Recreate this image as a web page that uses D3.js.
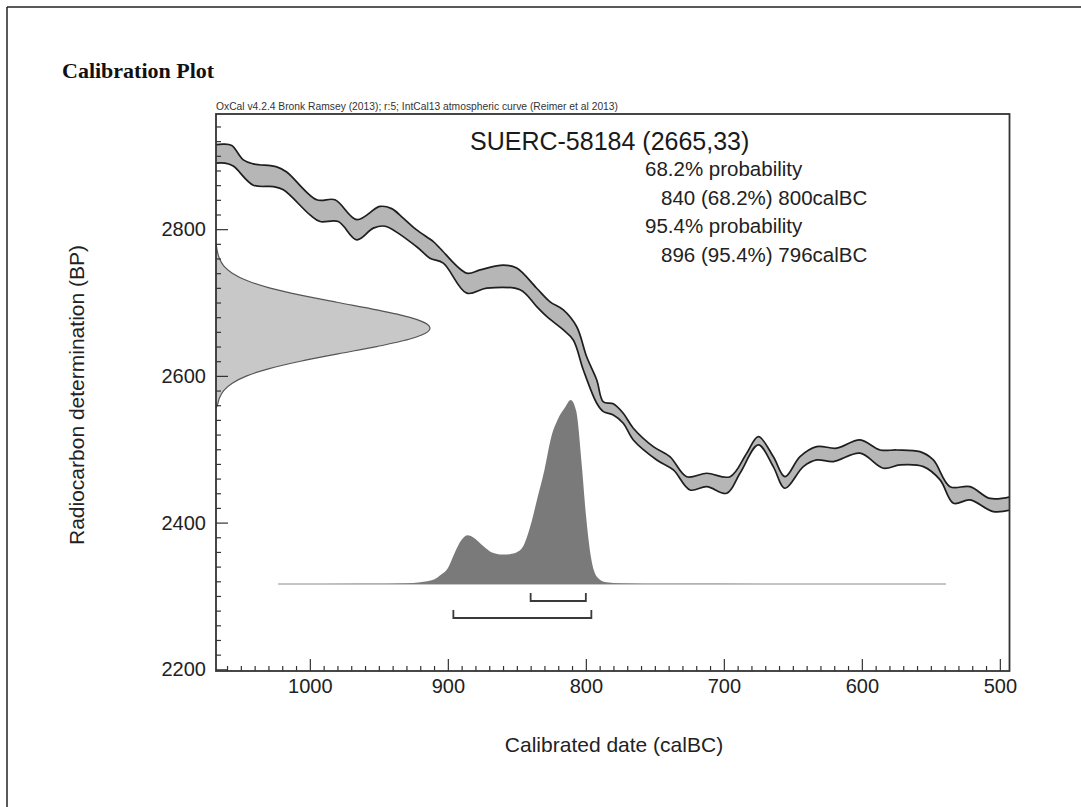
<!DOCTYPE html>
<html>
<head>
<meta charset="utf-8">
<script src="https://cdn.jsdelivr.net/npm/d3@7"></script>
<style>
  html, body { margin: 0; padding: 0; background: #fff; }
  svg { display: block; }
</style>
</head>
<body>
<svg id="chart" width="1081" height="807"></svg>
<script>
// ---------------- data ----------------
const pageTitle = "Calibration Plot";
const headerText = "OxCal v4.2.4 Bronk Ramsey (2013); r:5; IntCal13 atmospheric curve (Reimer et al 2013)";
const sampleLabel = "SUERC-58184 (2665,33)";
const resultLines = ["68.2% probability", "840 (68.2%) 800calBC", "95.4% probability", "896 (95.4%) 796calBC"];
const xTitle = "Calibrated date (calBC)";
const yTitle = "Radiocarbon determination (BP)";

const xTicks = [1000, 900, 800, 700, 600, 500];
const yTicks = [2200, 2400, 2600, 2800];

// IntCal13 curve band: upper edge (year calBC, BP)
const upperYears = [1069, 1062.7, 1056.6, 1048.2, 1041, 1024, 1016.8, 995, 981.8, 966, 949.2, 940.7, 932.3, 922.6, 910.5, 905.7, 886.3, 876.7, 859.8, 850.1, 835.6, 825.9, 816.3, 806.6, 799.4, 792.1, 787.3, 780.1, 772.9, 765.6, 751.1, 739.1, 726.9, 712.4, 695.5, 683.4, 675, 664.2, 655.7, 644.8, 632.7, 618.2, 601.3, 586.8, 574.7, 557.9, 548.2, 536.1, 521.6, 507.1, 492];
const upperBP    = [2915, 2916, 2914, 2894.5, 2889, 2885, 2878, 2840, 2840, 2813, 2831, 2828, 2815, 2799, 2783, 2774, 2740, 2744.5, 2751, 2747, 2719.5, 2701, 2690, 2667, 2626, 2594.5, 2564.5, 2562, 2549, 2528.7, 2503.6, 2490, 2462.6, 2467.3, 2462.6, 2494.6, 2517.2, 2490, 2462.6, 2490, 2503.6, 2501.4, 2512.7, 2499, 2499, 2496.7, 2485.4, 2449, 2449, 2433, 2435.4];
// lower edge
const lowerYears = [1069, 1061.5, 1055.5, 1041, 1026.5, 1019.2, 999.9, 992.6, 979.4, 966, 954, 945.5, 922.6, 913, 903.3, 886.3, 871.8, 847.7, 835.6, 828.4, 816.3, 809.1, 801.8, 792.1, 787.3, 780.1, 772.9, 765.6, 748.6, 736.6, 724.5, 712.4, 697.9, 688.3, 675, 664.2, 655.7, 642.4, 632.7, 620.7, 601.3, 584.4, 572.3, 555.4, 543.3, 533.6, 521.6, 504.8, 492];
const lowerBP    = [2890, 2890, 2886, 2860, 2858, 2853.6, 2819.5, 2810.4, 2810.4, 2785.4, 2801.4, 2804, 2776, 2760.5, 2753.7, 2712.8, 2719.6, 2717.3, 2694.5, 2681, 2662.7, 2649, 2608, 2562.7, 2551.3, 2546.8, 2535.5, 2512.7, 2485.4, 2471.8, 2444.5, 2449, 2440, 2467.3, 2505.9, 2476.3, 2446.8, 2476.3, 2485.4, 2483.1, 2494.6, 2474.1, 2478.6, 2476.3, 2458.2, 2426.4, 2430.9, 2415, 2417.2];

// Radiocarbon measurement distribution (BP, relative probability)
const rBP      = [2556, 2560, 2570, 2580, 2590, 2600, 2610, 2620, 2630, 2640, 2650, 2660, 2665, 2670, 2680, 2690, 2700, 2710, 2720, 2730, 2740, 2750, 2760, 2770, 2780];
const rDensity = [0, 0.006, 0.016, 0.036, 0.076, 0.144, 0.249, 0.395, 0.570, 0.751, 0.902, 0.989, 1, 0.989, 0.902, 0.751, 0.570, 0.395, 0.249, 0.144, 0.076, 0.036, 0.016, 0.006, 0.001];

// Calibrated date distribution (year calBC, relative probability)
const calYears   = [1023, 960, 930, 920, 910, 905, 900, 895, 890, 886, 880, 875, 870, 865, 860, 855, 850, 845, 840, 835, 830, 825, 820, 815, 811, 807, 803, 800, 797, 794, 790, 785, 775, 740, 539];
const calDensity = [0, 0.001, 0.004, 0.01, 0.025, 0.05, 0.085, 0.17, 0.24, 0.265, 0.245, 0.21, 0.18, 0.165, 0.16, 0.162, 0.172, 0.21, 0.32, 0.47, 0.62, 0.8, 0.9, 0.96, 1.0, 0.94, 0.65, 0.38, 0.18, 0.07, 0.025, 0.01, 0.004, 0.001, 0];

// Ranges (calBC)
const range68 = [[840, 800]];
const range95 = [[896, 796]];

// ---------------- drawing ----------------
const svg = d3.select("#chart");
const font = "'Liberation Sans', Arial, Helvetica, sans-serif";

const L = 216, R = 1009.5, T = 114, B = 671;
const x = d3.scaleLinear().domain([1068, 493]).range([L, R]);
const y = d3.scaleLinear().domain([2197.7, 2957]).range([B, T]);
const rScale = d3.scaleLinear().domain([0, 1]).range([L, 430]);
const cBase = 584;
const cScale = d3.scaleLinear().domain([0, 1]).range([cBase, 400]);

// page frame (top + left)
svg.append("line").attr("x1", 7).attr("y1", 7).attr("x2", 1081).attr("y2", 7)
  .attr("stroke", "#222").attr("stroke-width", 1.5);
svg.append("line").attr("x1", 7).attr("y1", 7).attr("x2", 7).attr("y2", 807)
  .attr("stroke", "#222").attr("stroke-width", 1.5);

svg.append("text").attr("x", 62).attr("y", 78)
  .attr("font-family", "'Liberation Serif', 'Times New Roman', serif")
  .attr("font-weight", "bold").attr("font-size", 22).attr("fill", "#111")
  .text(pageTitle);

svg.append("text").attr("x", L).attr("y", 110)
  .attr("font-family", font).attr("font-size", 10.5).attr("fill", "#333")
  .attr("textLength", 402).attr("lengthAdjust", "spacingAndGlyphs")
  .text(headerText);

svg.append("defs").append("clipPath").attr("id", "plotclip")
  .append("rect").attr("x", L).attr("y", T).attr("width", R - L).attr("height", B - T);

const plot = svg.append("g").attr("clip-path", "url(#plotclip)");

// calibration curve band
const up = upperYears.map((d, i) => [x(d), y(upperBP[i])]);
const lo = lowerYears.map((d, i) => [x(d), y(lowerBP[i])]);
const edge = d3.line().curve(d3.curveCatmullRom.alpha(0.5));
const bandPath = edge(up) + edge(lo.slice().reverse()).replace(/^M/, "L") + "Z";
plot.append("path").attr("d", bandPath).attr("fill", "#b6b6b6").attr("stroke", "none");
plot.append("path").attr("d", edge(up)).attr("fill", "none").attr("stroke", "#1e1e1e").attr("stroke-width", 1.7);
plot.append("path").attr("d", edge(lo)).attr("fill", "none").attr("stroke", "#1e1e1e").attr("stroke-width", 1.7);

// radiocarbon measurement distribution
const rPts = rBP.map((d, i) => ({ bp: d, p: rDensity[i] }));
plot.append("path").datum(rPts)
  .attr("d", d3.area().curve(d3.curveMonotoneY).y(d => y(d.bp)).x0(L).x1(d => rScale(d.p)))
  .attr("fill", "#c8c8c8");
plot.append("path").datum(rPts)
  .attr("d", d3.line().curve(d3.curveMonotoneY).y(d => y(d.bp)).x(d => rScale(d.p)))
  .attr("fill", "none").attr("stroke", "#555").attr("stroke-width", 1.2);

// calibrated distribution
const cPts = calYears.map((d, i) => ({ yr: d, p: calDensity[i] }));
plot.append("line")
  .attr("x1", x(calYears[0])).attr("x2", x(calYears[calYears.length - 1]))
  .attr("y1", cBase).attr("y2", cBase).attr("stroke", "#8a8a8a").attr("stroke-width", 1);
plot.append("path").datum(cPts)
  .attr("d", d3.area().curve(d3.curveMonotoneX).x(d => x(d.yr)).y0(cBase).y1(d => cScale(d.p)))
  .attr("fill", "#7a7a7a");

// ranges brackets
function bracket(ranges, yy) {
  ranges.forEach(r => {
    const x1 = x(r[0]), x2 = x(r[1]);
    plot.append("path")
      .attr("d", `M${x1},${yy - 8}L${x1},${yy}L${x2},${yy}L${x2},${yy - 8}`)
      .attr("fill", "none").attr("stroke", "#3a3a3a").attr("stroke-width", 1.8);
  });
}
bracket(range68, 601);
bracket(range95, 618);

// axes
const xMinor = d3.range(500, 1070, 10).filter(v => !xTicks.includes(v));
const yMinor = d3.range(2200, 2960, 20).filter(v => !yTicks.includes(v));

const gx = svg.append("g").attr("transform", `translate(0,${B})`);
gx.call(d3.axisBottom(x).tickValues(xTicks).tickSize(-12).tickPadding(8).tickFormat(d3.format("d")));
gx.append("g").call(d3.axisBottom(x).tickValues(xMinor).tickSize(-5).tickFormat(""));
gx.selectAll(".domain").remove();
gx.selectAll("line").attr("stroke", "#333").attr("stroke-width", 1.2);
gx.selectAll("text").attr("font-family", font).attr("font-size", 20).attr("fill", "#222");

const gy = svg.append("g").attr("transform", `translate(${L},0)`);
gy.call(d3.axisLeft(y).tickValues(yTicks).tickSize(-12).tickPadding(10).tickFormat(d3.format("d")));
gy.append("g").call(d3.axisLeft(y).tickValues(yMinor).tickSize(-5).tickFormat(""));
gy.selectAll(".domain").remove();
gy.selectAll("line").attr("stroke", "#333").attr("stroke-width", 1.2);
gy.selectAll("text").attr("font-family", font).attr("font-size", 20).attr("fill", "#222");

// frame
svg.append("rect").attr("x", L).attr("y", T).attr("width", R - L).attr("height", B - T)
  .attr("fill", "none").attr("stroke", "#333").attr("stroke-width", 1.8);

// texts
svg.append("text").attr("x", 470).attr("y", 150)
  .attr("font-family", font).attr("font-size", 25).attr("fill", "#1a1a1a").text(sampleLabel);
const rx = [645, 661, 645, 661], ry = [176, 205, 233, 262];
resultLines.forEach((t, i) => {
  svg.append("text").attr("x", rx[i]).attr("y", ry[i])
    .attr("font-family", font).attr("font-size", 20.5).attr("fill", "#222").text(t);
});

svg.append("text").attr("x", 614).attr("y", 752).attr("text-anchor", "middle")
  .attr("font-family", font).attr("font-size", 21).attr("fill", "#222").text(xTitle);
svg.append("text").attr("transform", "translate(84,395) rotate(-90)").attr("text-anchor", "middle")
  .attr("font-family", font).attr("font-size", 21).attr("fill", "#222").text(yTitle);
</script>
</body>
</html>
